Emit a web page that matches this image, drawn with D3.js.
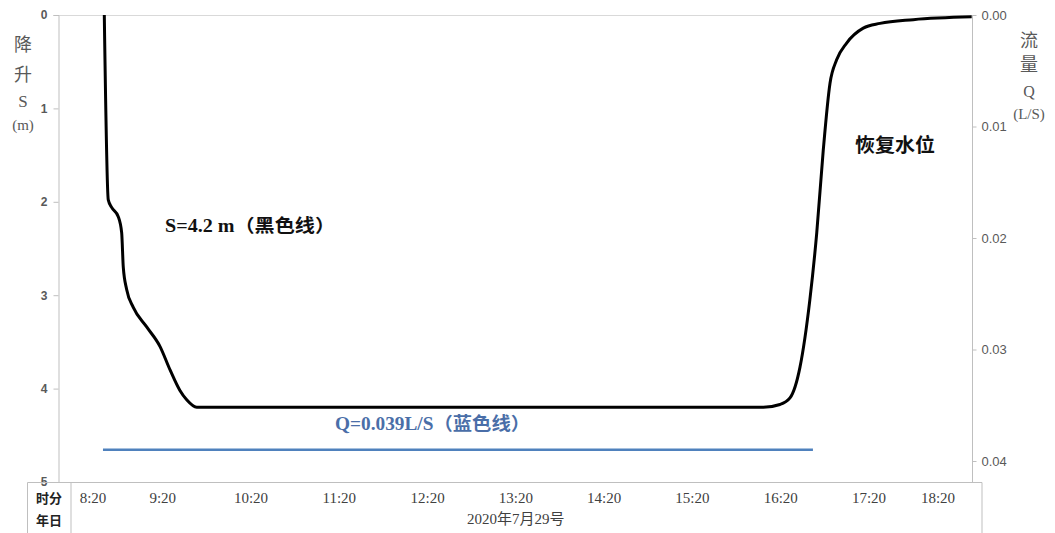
<!DOCTYPE html>
<html>
<head>
<meta charset="utf-8">
<script src="https://cdn.jsdelivr.net/npm/d3@7"></script>
<style>
  html, body { margin: 0; padding: 0; background: #fff; }
  svg { display: block; }
</style>
</head>
<body>
<svg id="chart" width="1055" height="533"></svg>
<script>
// Drawdown S (m) over time, minutes since midnight
const drawdownTime = [520.3, 523.0, 525.3, 529.8, 532.1, 533.2, 535.5, 540.0, 549.1, 558.2, 565.0, 571.7, 576.3, 583.1,
                      700.0, 850.0, 968.2, 979.5, 986.3, 993.1, 999.8, 1004.5, 1008.9, 1013.5, 1018.0, 1024.8, 1036.1, 1047.5, 1070.1, 1109.8];
const drawdownS    = [0.00, 1.98, 2.06, 2.16, 2.33, 2.70, 2.94, 3.13, 3.34, 3.55, 3.80, 4.02, 4.12, 4.20,
                      4.20, 4.20, 4.20, 4.17, 4.10, 3.77, 3.05, 2.33, 1.45, 0.73, 0.48, 0.30, 0.14, 0.09, 0.05, 0.02];

// Pumping rate Q (L/S)
const flowTime = [519.4, 1001.9];
const flowQ    = [0.039, 0.039];

// Axis ticks
const xTickTimes  = [500, 560, 620, 680, 740, 800, 860, 920, 980, 1040, 1100];
const xTickLabels = ["8:20", "9:20", "10:20", "11:20", "12:20", "13:20", "14:20", "15:20", "16:20", "17:20", "18:20"];
const sTicks = [0, 1, 2, 3, 4, 5];
const qTicks = [0.00, 0.01, 0.02, 0.03, 0.04];
const dateLabel = "2020年7月29号";

const svg = d3.select("#chart");
const plot = { left: 58, right: 972, top: 15, bottom: 482 };

const x = d3.scaleLinear().domain([620, 1040]).range([251, 869]);
const yS = d3.scaleLinear().domain([0, 5]).range([plot.top, plot.bottom]);
const yQ = d3.scaleLinear().domain([0, 0.04]).range([plot.top, 461]);

const gridGray = "#bfbfbf";
const labelGray = "#595959";
const serif = "'Liberation Serif', 'Noto Sans CJK SC', serif";
const sans = "'Liberation Sans', Arial, sans-serif";

// plot frame top line (category axis at S = 0)
svg.append("line")
  .attr("x1", plot.left).attr("x2", plot.right)
  .attr("y1", plot.top + 0.5).attr("y2", plot.top + 0.5)
  .attr("stroke", "#d9d9d9").attr("stroke-width", 1);

// left axis (drawdown)
const leftAxis = svg.append("g")
  .attr("transform", `translate(${plot.left + 0.5},0)`)
  .call(d3.axisLeft(yS).tickValues(sTicks).tickFormat(d3.format("d")).tickSize(5).tickPadding(6));
leftAxis.select(".domain").attr("stroke", gridGray);
leftAxis.selectAll(".tick line").attr("stroke", gridGray);
leftAxis.selectAll("text").attr("fill", labelGray).style("font-family", sans).style("font-size", "12px").style("font-weight", "bold");

// right axis (flow)
const rightAxis = svg.append("g")
  .attr("transform", `translate(${plot.right + 0.5},0)`)
  .call(d3.axisRight(yQ).tickValues(qTicks).tickFormat(d3.format(".2f")).tickSize(4).tickPadding(5));
rightAxis.select(".domain").remove();
rightAxis.append("line").attr("x1", 0).attr("x2", 0).attr("y1", plot.top).attr("y2", plot.bottom)
  .attr("stroke", gridGray);
rightAxis.selectAll(".tick line").attr("stroke", gridGray);
rightAxis.selectAll("text").attr("fill", labelGray).style("font-family", sans).style("font-size", "13px");

// category table under the plot
const tableTop = plot.bottom + 0.5;
const tableLeft = 71, tableRight = 982;
svg.append("path")
  .attr("d", `M${tableLeft},533 V${tableTop} H${tableRight} V533`)
  .attr("fill", "none").attr("stroke", gridGray);
svg.append("path")
  .attr("d", `M27.5,533 V${tableTop} H${tableLeft}`)
  .attr("fill", "none").attr("stroke", gridGray);
svg.append("text").attr("x", 49).attr("y", 503).attr("text-anchor", "middle")
  .style("font-family", "'Noto Sans CJK SC', sans-serif").style("font-size", "13px").style("font-weight", "bold")
  .attr("fill", "#222").text("时分");
svg.append("text").attr("x", 49).attr("y", 525).attr("text-anchor", "middle")
  .style("font-family", "'Noto Sans CJK SC', sans-serif").style("font-size", "13px").style("font-weight", "bold")
  .attr("fill", "#222").text("年日");

// time labels, kept inside the table
const xLabels = svg.append("g");
xTickTimes.forEach((t, i) => {
  const half = 17;
  const px = Math.max(tableLeft + half + 5, Math.min(tableRight - half - 27, x(t)));
  xLabels.append("text")
    .attr("x", px).attr("y", 503).attr("text-anchor", "middle")
    .style("font-family", serif).style("font-size", "15px")
    .attr("fill", "#404040").text(xTickLabels[i]);
});
svg.append("text").attr("x", x(800)).attr("y", 524).attr("text-anchor", "middle")
  .style("font-family", serif).style("font-size", "15px").attr("fill", "#404040").text(dateLabel);

// axis titles
const leftTitle = ["降", "升", "S", "(m)"];
const leftTitleY = [51, 81, 107, 130];
leftTitle.forEach((s, i) => {
  svg.append("text").attr("x", 23).attr("y", leftTitleY[i]).attr("text-anchor", "middle")
    .style("font-family", serif).style("font-size", i < 2 ? "18px" : (i === 2 ? "17px" : "15px"))
    .attr("fill", labelGray).text(s);
});
const rightTitle = ["流", "量", "Q", "(L/S)"];
const rightTitleY = [47, 71, 97, 119];
rightTitle.forEach((s, i) => {
  svg.append("text").attr("x", 1029).attr("y", rightTitleY[i]).attr("text-anchor", "middle")
    .style("font-family", serif).style("font-size", i < 2 ? "18px" : (i === 2 ? "16px" : "15px"))
    .attr("fill", labelGray).text(s);
});

// flow line
const flowLine = d3.line().x(d => x(d[0])).y(d => yQ(d[1]));
svg.append("path")
  .datum(flowTime.map((t, i) => [t, flowQ[i]]))
  .attr("d", flowLine)
  .attr("fill", "none").attr("stroke", "#4f81bd").attr("stroke-width", 2.5);

// drawdown curve
const sLine = d3.line().x(d => x(d[0])).y(d => yS(d[1])).curve(d3.curveMonotoneX);
svg.append("path")
  .datum(drawdownTime.map((t, i) => [t, drawdownS[i]]))
  .attr("d", sLine)
  .attr("fill", "none").attr("stroke", "#000").attr("stroke-width", 3)
  .attr("stroke-linejoin", "round");

// annotations
svg.append("text").attr("x", 165).attr("y", 232)
  .attr("textLength", 170).attr("lengthAdjust", "spacingAndGlyphs")
  .style("font-family", serif).style("font-size", "18px").style("font-weight", "bold")
  .attr("fill", "#111").text("S=4.2 m（黑色线）");
svg.append("text").attr("x", 855).attr("y", 152)
  .attr("textLength", 80).attr("lengthAdjust", "spacingAndGlyphs")
  .style("font-family", serif).style("font-size", "19px").style("font-weight", "bold")
  .attr("fill", "#111").text("恢复水位");
svg.append("text").attr("x", 335).attr("y", 430)
  .attr("textLength", 195).attr("lengthAdjust", "spacingAndGlyphs")
  .style("font-family", serif).style("font-size", "18px").style("font-weight", "bold")
  .attr("fill", "#4a6ea8").text("Q=0.039L/S（蓝色线）");
</script>
</body>
</html>
